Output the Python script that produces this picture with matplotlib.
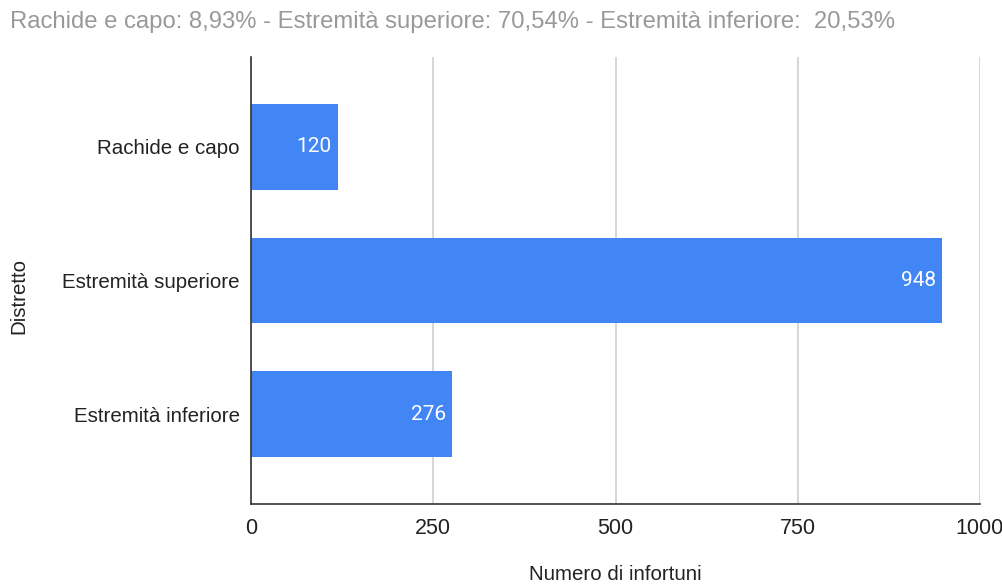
import matplotlib
matplotlib.use("Agg")
import matplotlib.pyplot as plt

# Injury counts by body district
districts = ["Rachide e capo", "Estremità superiore", "Estremità inferiore"]
infortuni = [120, 948, 276]
x_ticks = [0, 250, 500, 750, 1000]
title = ("Rachide e capo: 8,93% - Estremità superiore: 70,54% - "
         "Estremità inferiore:  20,53%")

BAR_COLOR = "#4285F4"
GRID_COLOR = "#cccccc"
TEXT_COLOR = "#222222"
FONT = "Liberation Sans"

fig = plt.figure(figsize=(10.03, 5.84), dpi=100, facecolor="white")
ax = fig.add_axes([251 / 1003, 1 - 504 / 584, (980 - 251) / 1003, (504 - 57) / 584])

pos = list(range(len(districts)))
ax.barh(pos, infortuni, height=0.64, color=BAR_COLOR, zorder=3)

for y, v in zip(pos, infortuni):
    ax.text(v - 9, y, str(v), ha="right", va="center", color="white",
            fontsize=15, family="Roboto", zorder=4)

ax.set_xlim(0, 1000)
ax.set_ylim(2.674, -0.674)
ax.set_xticks(x_ticks)
ax.set_xticklabels([str(t) for t in x_ticks], family=FONT, fontsize=15.5)
ax.set_yticks(pos)
ax.set_yticklabels(districts, family=FONT, fontsize=14.8)
ax.tick_params(axis="both", length=0, colors=TEXT_COLOR)
ax.tick_params(axis="x", pad=10)
ax.tick_params(axis="y", pad=8)

ax.grid(axis="x", color=GRID_COLOR, linewidth=1.1, zorder=0)
for side in ("top", "right"):
    ax.spines[side].set_visible(False)
for side in ("left", "bottom"):
    ax.spines[side].set_color("#333333")
    ax.spines[side].set_linewidth(1.2)
    ax.spines[side].set_zorder(5)

# axis titles placed in figure pixels
fig.text(615 / 1003, 1 - 575 / 584, "Numero di infortuni", family=FONT,
         fontsize=14.8, color=TEXT_COLOR, ha="center", va="center")
fig.text(19 / 1003, 1 - 296 / 584, "Distretto", family=FONT, fontsize=14.8,
         color=TEXT_COLOR, ha="center", va="center", rotation=90)

fig.text(10 / 1003, 1 - 22 / 584, title, family=FONT, fontsize=17.2,
         color="#999999", ha="left", va="center")

fig.savefig("out.png", dpi=100, facecolor="white")
